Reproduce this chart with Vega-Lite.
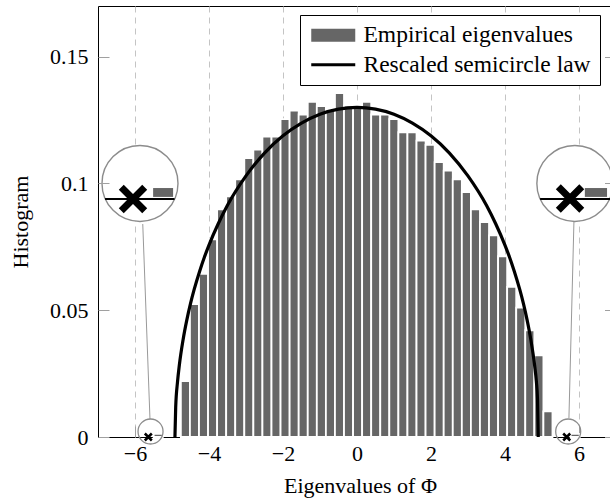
{
  "$schema": "https://vega.github.io/schema/vega-lite/v6.json",
  "width": 512,
  "height": 431,
  "autosize": {"type": "none"},
  "padding": {"left": 98, "top": 6, "right": 0, "bottom": 64},
  "config": {
    "view": {"stroke": "black", "strokeWidth": 1},
    "font": "Liberation Serif",
    "axis": {
      "labelFont": "Liberation Serif", "labelFontSize": 22, "labelColor": "black",
      "titleFont": "Liberation Serif", "titleFontSize": 22, "titleFontWeight": "normal", "titleColor": "black",
      "domain": false, "tickColor": "#a0a0a0", "tickWidth": 1, "labelFlush": false
    }
  },
  "datasets": {
    "hist": [
      {"x0": -5.495, "x1": -5.25, "h": 0.0012, "series": "Empirical eigenvalues"},
      {"x0": -4.760, "x1": -4.515, "h": 0.0220, "series": "Empirical eigenvalues"},
      {"x0": -4.515, "x1": -4.270, "h": 0.0524, "series": "Empirical eigenvalues"},
      {"x0": -4.270, "x1": -4.025, "h": 0.0644, "series": "Empirical eigenvalues"},
      {"x0": -4.025, "x1": -3.780, "h": 0.0780, "series": "Empirical eigenvalues"},
      {"x0": -3.780, "x1": -3.535, "h": 0.0898, "series": "Empirical eigenvalues"},
      {"x0": -3.535, "x1": -3.290, "h": 0.0949, "series": "Empirical eigenvalues"},
      {"x0": -3.290, "x1": -3.045, "h": 0.1016, "series": "Empirical eigenvalues"},
      {"x0": -3.045, "x1": -2.800, "h": 0.1100, "series": "Empirical eigenvalues"},
      {"x0": -2.800, "x1": -2.555, "h": 0.1134, "series": "Empirical eigenvalues"},
      {"x0": -2.555, "x1": -2.310, "h": 0.1185, "series": "Empirical eigenvalues"},
      {"x0": -2.310, "x1": -2.065, "h": 0.1185, "series": "Empirical eigenvalues"},
      {"x0": -2.065, "x1": -1.820, "h": 0.1254, "series": "Empirical eigenvalues"},
      {"x0": -1.820, "x1": -1.575, "h": 0.1287, "series": "Empirical eigenvalues"},
      {"x0": -1.575, "x1": -1.330, "h": 0.1272, "series": "Empirical eigenvalues"},
      {"x0": -1.330, "x1": -1.085, "h": 0.1322, "series": "Empirical eigenvalues"},
      {"x0": -1.085, "x1": -0.840, "h": 0.1305, "series": "Empirical eigenvalues"},
      {"x0": -0.840, "x1": -0.595, "h": 0.1290, "series": "Empirical eigenvalues"},
      {"x0": -0.595, "x1": -0.350, "h": 0.1356, "series": "Empirical eigenvalues"},
      {"x0": -0.350, "x1": -0.105, "h": 0.1307, "series": "Empirical eigenvalues"},
      {"x0": -0.105, "x1": 0.140, "h": 0.1307, "series": "Empirical eigenvalues"},
      {"x0": 0.140, "x1": 0.385, "h": 0.1322, "series": "Empirical eigenvalues"},
      {"x0": 0.385, "x1": 0.630, "h": 0.1272, "series": "Empirical eigenvalues"},
      {"x0": 0.630, "x1": 0.875, "h": 0.1272, "series": "Empirical eigenvalues"},
      {"x0": 0.875, "x1": 1.120, "h": 0.1254, "series": "Empirical eigenvalues"},
      {"x0": 1.120, "x1": 1.365, "h": 0.1202, "series": "Empirical eigenvalues"},
      {"x0": 1.365, "x1": 1.610, "h": 0.1202, "series": "Empirical eigenvalues"},
      {"x0": 1.610, "x1": 1.855, "h": 0.1169, "series": "Empirical eigenvalues"},
      {"x0": 1.855, "x1": 2.100, "h": 0.1152, "series": "Empirical eigenvalues"},
      {"x0": 2.100, "x1": 2.345, "h": 0.1084, "series": "Empirical eigenvalues"},
      {"x0": 2.345, "x1": 2.590, "h": 0.1051, "series": "Empirical eigenvalues"},
      {"x0": 2.590, "x1": 2.835, "h": 0.1016, "series": "Empirical eigenvalues"},
      {"x0": 2.835, "x1": 3.080, "h": 0.0966, "series": "Empirical eigenvalues"},
      {"x0": 3.080, "x1": 3.325, "h": 0.0898, "series": "Empirical eigenvalues"},
      {"x0": 3.325, "x1": 3.570, "h": 0.0848, "series": "Empirical eigenvalues"},
      {"x0": 3.570, "x1": 3.815, "h": 0.0795, "series": "Empirical eigenvalues"},
      {"x0": 3.815, "x1": 4.060, "h": 0.0713, "series": "Empirical eigenvalues"},
      {"x0": 4.060, "x1": 4.305, "h": 0.0592, "series": "Empirical eigenvalues"},
      {"x0": 4.305, "x1": 4.550, "h": 0.0510, "series": "Empirical eigenvalues"},
      {"x0": 4.550, "x1": 4.795, "h": 0.0421, "series": "Empirical eigenvalues"},
      {"x0": 4.795, "x1": 5.040, "h": 0.0322, "series": "Empirical eigenvalues"},
      {"x0": 5.040, "x1": 5.285, "h": 0.0101, "series": "Empirical eigenvalues"},
      {"x0": 5.775, "x1": 6.020, "h": 0.0012, "series": "Empirical eigenvalues"}
    ],
    "curve": [
      {"x": -4.92, "y": 0.0, "series": "Rescaled semicircle law"},
      {"x": -4.9, "y": 0.0117, "series": "Rescaled semicircle law"},
      {"x": -4.85, "y": 0.0218, "series": "Rescaled semicircle law"},
      {"x": -4.8, "y": 0.0285, "series": "Rescaled semicircle law"},
      {"x": -4.7, "y": 0.0384, "series": "Rescaled semicircle law"},
      {"x": -4.6, "y": 0.0461, "series": "Rescaled semicircle law"},
      {"x": -4.5, "y": 0.0526, "series": "Rescaled semicircle law"},
      {"x": -4.4, "y": 0.0582, "series": "Rescaled semicircle law"},
      {"x": -4.25, "y": 0.0655, "series": "Rescaled semicircle law"},
      {"x": -4.12, "y": 0.0711, "series": "Rescaled semicircle law"},
      {"x": -4.0, "y": 0.0757, "series": "Rescaled semicircle law"},
      {"x": -3.75, "y": 0.0841, "series": "Rescaled semicircle law"},
      {"x": -3.5, "y": 0.0914, "series": "Rescaled semicircle law"},
      {"x": -3.0, "y": 0.1030, "series": "Rescaled semicircle law"},
      {"x": -2.5, "y": 0.1120, "series": "Rescaled semicircle law"},
      {"x": -2.0, "y": 0.1188, "series": "Rescaled semicircle law"},
      {"x": -1.5, "y": 0.1238, "series": "Rescaled semicircle law"},
      {"x": -1.0, "y": 0.1273, "series": "Rescaled semicircle law"},
      {"x": -0.5, "y": 0.1293, "series": "Rescaled semicircle law"},
      {"x": 0.0, "y": 0.1300, "series": "Rescaled semicircle law"},
      {"x": 0.5, "y": 0.1293, "series": "Rescaled semicircle law"},
      {"x": 1.0, "y": 0.1273, "series": "Rescaled semicircle law"},
      {"x": 1.5, "y": 0.1238, "series": "Rescaled semicircle law"},
      {"x": 2.0, "y": 0.1188, "series": "Rescaled semicircle law"},
      {"x": 2.5, "y": 0.1120, "series": "Rescaled semicircle law"},
      {"x": 3.0, "y": 0.1030, "series": "Rescaled semicircle law"},
      {"x": 3.5, "y": 0.0914, "series": "Rescaled semicircle law"},
      {"x": 3.75, "y": 0.0841, "series": "Rescaled semicircle law"},
      {"x": 4.0, "y": 0.0757, "series": "Rescaled semicircle law"},
      {"x": 4.12, "y": 0.0711, "series": "Rescaled semicircle law"},
      {"x": 4.25, "y": 0.0655, "series": "Rescaled semicircle law"},
      {"x": 4.4, "y": 0.0582, "series": "Rescaled semicircle law"},
      {"x": 4.5, "y": 0.0526, "series": "Rescaled semicircle law"},
      {"x": 4.6, "y": 0.0461, "series": "Rescaled semicircle law"},
      {"x": 4.7, "y": 0.0384, "series": "Rescaled semicircle law"},
      {"x": 4.8, "y": 0.0285, "series": "Rescaled semicircle law"},
      {"x": 4.85, "y": 0.0218, "series": "Rescaled semicircle law"},
      {"x": 4.88, "y": 0.0150, "series": "Rescaled semicircle law"},
      {"x": 4.90, "y": 0.0, "series": "Rescaled semicircle law"}
    ],
    "circles": [
      {"x": -5.865, "y": 0.1000, "kind": "big"},
      {"x": 5.89, "y": 0.1000, "kind": "big"},
      {"x": -5.58, "y": 0.00217, "kind": "small"},
      {"x": 5.71, "y": 0.00217, "kind": "small"}
    ],
    "crosses": [
      {"x": -6.054, "y": 0.0939, "kind": "big"},
      {"x": 5.76, "y": 0.0941, "kind": "big"},
      {"x": -5.64, "y": 0.0, "kind": "small"},
      {"x": 5.67, "y": 0.0, "kind": "small"}
    ],
    "magbars": [
      {"x0": -5.51, "x1": -4.97, "y0": 0.0947, "y1": 0.0982},
      {"x0": 6.16, "x1": 6.76, "y0": 0.0947, "y1": 0.0982}
    ],
    "maglines": [
      {"x0": -6.81, "x1": -4.93, "y": 0.0939},
      {"x0": 4.95, "x1": 6.84, "y": 0.0939}
    ],
    "connectors": [
      {"x0": -5.595, "y0": 0.0071, "x1": -5.79, "y1": 0.0840},
      {"x0": 5.73, "y0": 0.0075, "x1": 5.865, "y1": 0.0848}
    ]
  },
  "resolve": {"axis": {"y": "independent"}},
  "layer": [
    {
      "data": {"name": "hist"},
      "mark": {"type": "rect", "stroke": "white", "strokeWidth": 1.8},
      "encoding": {
        "x": {
          "field": "x0", "type": "quantitative",
          "scale": {"domain": [-7, 6.84], "nice": false, "zero": false},
          "axis": {
            "values": [-6, -4, -2, 0, 2, 4, 6], "format": "d",
            "title": "Eigenvalues of Φ",
            "grid": true, "gridDash": [6, 5], "gridColor": "#c4c4c4", "gridWidth": 1,
            "tickSize": -11, "labelPadding": 17.6,
            "titleX": 262, "titleY": 55, "titleBaseline": "alphabetic", "titleAlign": "center",
            "zindex": 0
          }
        },
        "x2": {"field": "x1"},
        "y": {
          "field": "h", "type": "quantitative",
          "scale": {"domain": [0, 0.17], "nice": false, "zero": false},
          "axis": {
            "values": [0, 0.05, 0.1, 0.15], "format": "~g",
            "title": "Histogram", "grid": false,
            "tickSize": -11, "labelPadding": 21,
            "titleX": -71, "titleY": 215.5, "titleBaseline": "alphabetic", "titleAlign": "center", "titleAngle": 270,
            "zindex": 1
          }
        },
        "y2": {"datum": 0},
        "color": {
          "field": "series", "type": "nominal",
          "scale": {"domain": ["Empirical eigenvalues", "Rescaled semicircle law"], "range": ["#666666", "#000000"]},
          "legend": {
            "orient": "none", "legendX": 202, "legendY": 9, "title": null,
            "padding": 8.5, "strokeColor": "black", "fillColor": "white", "cornerRadius": 0,
            "labelFont": "Liberation Serif", "labelFontSize": 23.5, "labelColor": "black", "labelLimit": 400,
            "symbolType": {"expr": "datum.value === 'Empirical eigenvalues' ? 'M-2.2,-0.65L2.2,-0.65L2.2,0.65L-2.2,0.65Z' : 'M-2.2,-0.16L2.2,-0.16L2.2,0.16L-2.2,0.16Z'"},
            "symbolSize": 400,
            "symbolStrokeWidth": 0,
            "symbolStrokeColor": "transparent",
            "symbolFillColor": {"expr": "datum.value === 'Empirical eigenvalues' ? '#666666' : '#000000'"},
            "symbolOpacity": 1,
            "symbolOffset": 13, "labelOffset": 18.5, "rowPadding": 4.5
          }
        }
      }
    },
    {
      "data": {"name": "curve"},
      "mark": {"type": "line", "strokeWidth": 3.2, "interpolate": "monotone"},
      "encoding": {
        "x": {"field": "x", "type": "quantitative", "scale": {"domain": [-7, 6.84], "nice": false, "zero": false}},
        "y": {
          "field": "y", "type": "quantitative",
          "scale": {"domain": [0, 0.17], "nice": false, "zero": false},
          "axis": {
            "orient": "right", "labels": false, "title": null, "grid": false,
            "values": [0, 0.05, 0.1, 0.15], "tickSize": -5.5, "zindex": 1
          }
        },
        "color": {"field": "series", "type": "nominal", "legend": null, "scale": {"domain": ["Empirical eigenvalues", "Rescaled semicircle law"], "range": ["#666666", "#000000"]}}
      }
    },
    {
      "data": {"name": "connectors"},
      "mark": {"type": "rule", "stroke": "#999999", "strokeWidth": 1},
      "encoding": {
        "x": {"field": "x0", "type": "quantitative"},
        "y": {"field": "y0", "type": "quantitative", "axis": null},
        "x2": {"field": "x1"},
        "y2": {"field": "y1"}
      }
    },
    {
      "data": {"name": "circles"},
      "transform": [{"filter": "datum.kind === 'small'"}],
      "mark": {"type": "point", "shape": "circle", "size": 625, "filled": false, "stroke": "#8c8c8c", "strokeWidth": 1.3, "opacity": 1},
      "encoding": {
        "x": {"field": "x", "type": "quantitative"},
        "y": {"field": "y", "type": "quantitative", "axis": null}
      }
    },
    {
      "data": {"name": "crosses"},
      "transform": [{"filter": "datum.kind === 'small'"}],
      "mark": {"type": "point", "shape": "M-1,-1L1,1M1,-1L-1,1", "size": 49, "filled": false, "stroke": "black", "strokeWidth": 2.5, "opacity": 1},
      "encoding": {
        "x": {"field": "x", "type": "quantitative"},
        "y": {"field": "y", "type": "quantitative", "axis": null}
      }
    },
    {
      "data": {"name": "circles"},
      "transform": [{"filter": "datum.kind === 'big'"}],
      "mark": {"type": "point", "shape": "circle", "size": 5776, "filled": true, "fill": "white", "stroke": "#8c8c8c", "strokeWidth": 1.4, "opacity": 1},
      "encoding": {
        "x": {"field": "x", "type": "quantitative"},
        "y": {"field": "y", "type": "quantitative", "axis": null}
      }
    },
    {
      "data": {"name": "maglines"},
      "mark": {"type": "rule", "stroke": "black", "strokeWidth": 2},
      "encoding": {
        "x": {"field": "x0", "type": "quantitative"},
        "x2": {"field": "x1"},
        "y": {"field": "y", "type": "quantitative", "axis": null}
      }
    },
    {
      "data": {"name": "magbars"},
      "mark": {"type": "rect", "fill": "#666666"},
      "encoding": {
        "x": {"field": "x0", "type": "quantitative"},
        "x2": {"field": "x1"},
        "y": {"field": "y0", "type": "quantitative", "axis": null},
        "y2": {"field": "y1"}
      }
    },
    {
      "data": {"name": "crosses"},
      "transform": [{"filter": "datum.kind === 'big'"}],
      "mark": {"type": "point", "shape": "M-1,-1L1,1M1,-1L-1,1", "size": 550, "filled": false, "stroke": "black", "strokeWidth": 7, "opacity": 1},
      "encoding": {
        "x": {"field": "x", "type": "quantitative"},
        "y": {"field": "y", "type": "quantitative", "axis": null}
      }
    }
  ]
}
